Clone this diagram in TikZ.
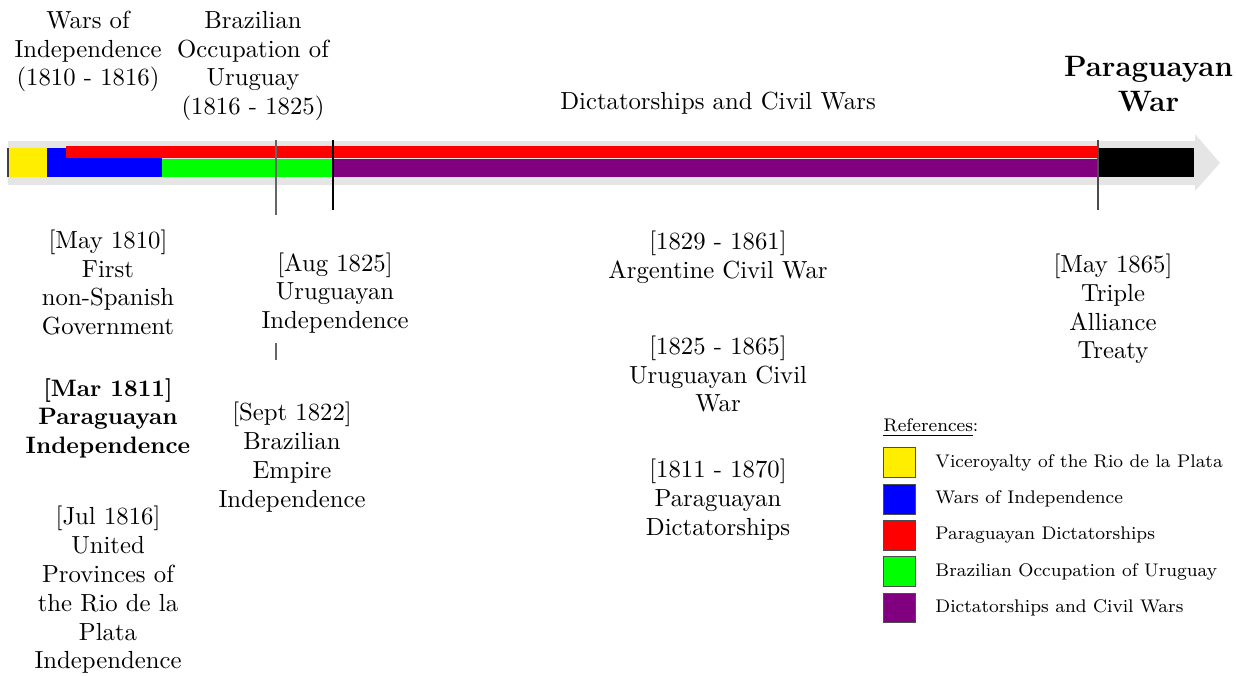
\documentclass[tikz,border=0pt]{standalone}
\usepackage[dvipsnames]{xcolor}
\usetikzlibrary{positioning}

\definecolor{viceroy}{RGB}{255,238,0}
\definecolor{warsind}{RGB}{0,0,255}
\definecolor{pardict}{RGB}{255,0,0}
\definecolor{brazocc}{RGB}{0,255,0}
\definecolor{civwars}{RGB}{128,0,128}

\begin{document}
\begin{tikzpicture}[x=0.014793cm,y=-0.014793cm,
    font=\fontsize{10.4}{12.1}\selectfont,
    event/.style={align=center,inner sep=0pt},
    period/.style={align=center,inner sep=0pt},
    tick/.style={draw=black!75,line width=0.5pt},
    refbox/.style={draw=black!70,minimum width=0.46cm,minimum height=0.44cm,inner sep=0pt},
    reftext/.style={anchor=west,inner sep=0pt,font=\fontsize{7.7}{9}\selectfont}]

    \useasboundingbox (0,0) rectangle (1236,675);

    % timeline arrow
    \fill[gray!20] (8,141) -- (1195,141) -- (1195,134) -- (1220,163)
        -- (1195,191) -- (1195,185) -- (8,185) -- cycle;

    % periods
    \fill[viceroy] (8,148) rectangle (47,177);
    \fill[warsind] (47,148) rectangle (162,177);
    \fill[brazocc] (162,158.5) rectangle (333,177);
    \fill[civwars] (333,158.5) rectangle (1098,177);
    \fill[pardict] (66,146) rectangle (1098,158);
    \fill[black] (1098,148) rectangle (1194,177);
    \draw[black!75,line width=0.8pt] (8,148) -- (8,177);

    % ticks
    \coordinate (t1a) at (276,140);
    \coordinate (t1b) at (276,215);
    \coordinate (t2a) at (333,140);
    \coordinate (t2b) at (333,210);
    \coordinate (t3a) at (1098,140);
    \coordinate (t3b) at (1098,210);
    \coordinate (t4a) at (276,343);
    \coordinate (t4b) at (276,360);
    \draw[tick,draw=black!60] (t1a) -- (t1b);
    \draw[tick,draw=black] (t2a) -- (t2b);
    \draw[tick,draw=black!70] (t3a) -- (t3b);
    \draw[tick,draw=black!60] (t4a) -- (t4b);

    % periods above
    \node[period] (warsInd) at (88,51.5) {Wars of\\Independence\\(1810 - 1816)};
    \node[period] (brazOcc) at (253,66) {Brazilian\\Occupation of\\Uruguay\\(1816 - 1825)};
    \node[period] (dictCivil) at (718,103) {Dictatorships and Civil Wars};
    \node[period,font=\fontsize{12.4}{15}\selectfont\bfseries] (parWar) at (1148.5,84) {Paraguayan\\War};

    % events below
    \node[event] (firstGov) at (108,282.5) {[May 1810]\\First\\non-Spanish\\Government};
    \node[event,font=\bfseries] (parInd) at (108,418) {[Mar 1811]\\Paraguayan\\Independence};
    \node[event] (unitedProv) at (108,590) {[Jul 1816]\\United\\Provinces of\\the Rio de la\\Plata\\Independence};
    \node[event] (uruInd) at (335,293) {[Aug 1825]\\Uruguayan\\Independence};
    \node[event] (brazEmp) at (292,457) {[Sept 1822]\\Brazilian\\Empire\\Independence};
    \node[event] (argCivil) at (718,257) {[1829 - 1861]\\Argentine Civil War};
    \node[event] (uruCivil) at (718,374) {[1825 - 1865]\\Uruguayan Civil\\War};
    \node[event] (parDict) at (718,499.5) {[1811 - 1870]\\Paraguayan\\Dictatorships};
    \node[event] (tripleAll) at (1113,309) {[May 1865]\\Triple\\Alliance\\Treaty};

    % references
    \node[reftext] (refs) at (883,428) {\underline{References}:};
    \foreach \col/\txt [count=\i] in {viceroy/Viceroyalty of the Rio de la Plata,
        warsind/Wars of Independence, pardict/Paraguayan Dictatorships,
        brazocc/Brazilian Occupation of Uruguay, civwars/Dictatorships and Civil Wars}{
        \node[refbox,fill=\col] (box\i) at (899.5,{426.5+36.3*\i}) {};
        \node[reftext] (lbl\i) at (935,{426.5+36.3*\i}) {\txt};
    }
\end{tikzpicture}
\end{document}
